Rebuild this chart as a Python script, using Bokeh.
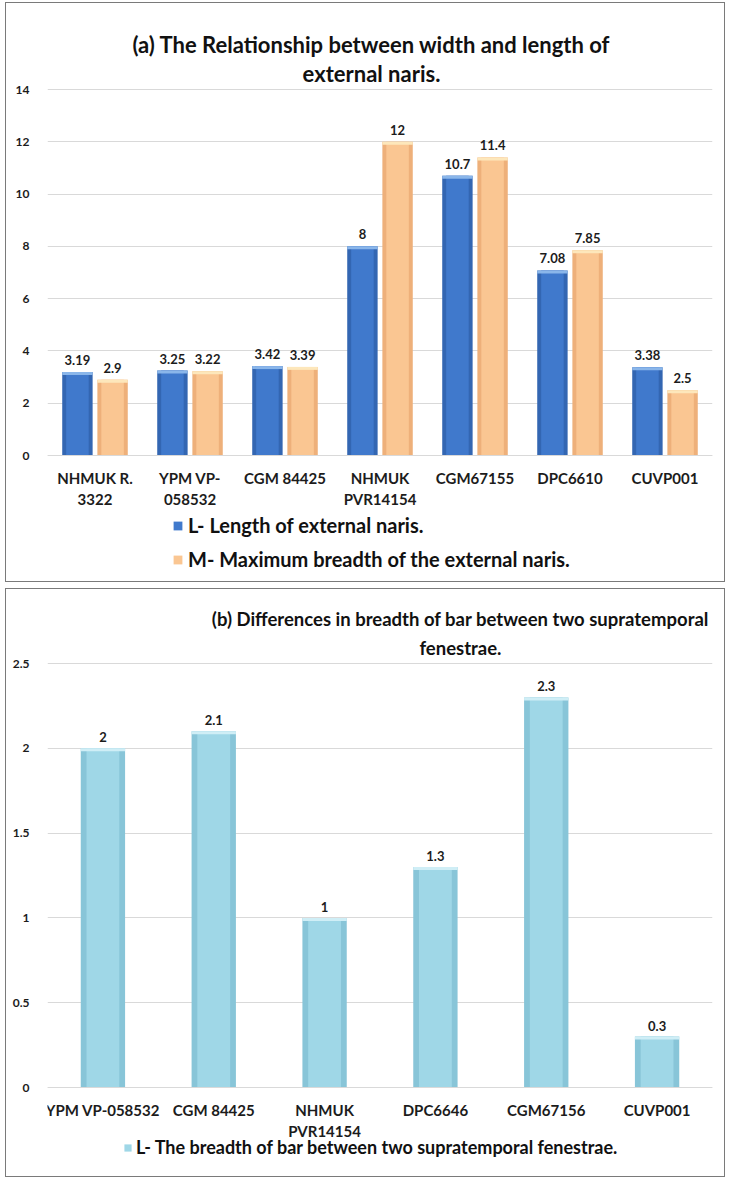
from bokeh.plotting import figure
from bokeh.models import (FactorRange, Range1d, ColumnDataSource, Label, Legend,
                          LegendItem, FixedTicker, NumeralTickFormatter)
from bokeh.transform import dodge
from bokeh.layouts import column
from bokeh.embed import file_html
from bokeh.resources import INLINE
from bokeh.core.properties import value

# ---- (a) external naris ----
specimens_a = ["NHMUK R.\n3322", "YPM VP-\n058532", "CGM 84425", "NHMUK\nPVR14154",
               "CGM67155", "DPC6610", "CUVP001"]
length_naris = [3.19, 3.25, 3.42, 8, 10.7, 7.08, 3.38]
breadth_naris = [2.9, 3.22, 3.39, 12, 11.4, 7.85, 2.5]
ticks_a = [0, 2, 4, 6, 8, 10, 12, 14]
legend_a = ["L- Length of external naris.", "M- Maximum breadth of the external naris."]
title_a = ["(a) The Relationship between width and length of", "external naris."]

# ---- (b) bar between supratemporal fenestrae ----
specimens_b = ["YPM VP-058532", "CGM 84425", "NHMUK\nPVR14154", "DPC6646", "CGM67156", "CUVP001"]
bar_breadth = [2, 2.1, 1, 1.3, 2.3, 0.3]
ticks_b = [0, 0.5, 1, 1.5, 2, 2.5]
legend_b = "L- The breadth of bar between two supratemporal fenestrae."
title_b = ["(b) Differences in breadth of bar between two supratemporal", "fenestrae."]

FONT = "Lato"
INK = "#1c1c1c"
GRID = "#d9d9d9"
BLUE = ("#3366b2", "#4079cc", "#8ab6ea")
PEACH = ("#eeb07a", "#fac692", "#fde7bb")
SKY = ("#88c5d8", "#9fd7e7", "#cfeef6")


def fmt(v):
    return f"{v:g}"


def base_figure(cats, ymax, ticks, w, h, left, right, below_px, above_px, fmt_ticks=None):
    # the frame fills the whole panel; the value axis spans [0, ymax] and the
    # room above / below it holds the title, category labels and legend
    plot_h = h - below_px - above_px
    unit = plot_h / ymax
    p = figure(x_range=FactorRange(*cats),
               y_range=Range1d(-below_px / unit, ymax + above_px / unit),
               width=w, height=h, output_backend="svg", toolbar_location=None,
               min_border_left=left, min_border_right=right,
               min_border_top=0, min_border_bottom=0)
    p.outline_line_color = None
    p.xgrid.grid_line_color = None
    tick = FixedTicker(ticks=ticks)
    p.ygrid.ticker = tick
    p.ygrid.grid_line_color = GRID
    p.ygrid.grid_line_width = 1
    p.yaxis.ticker = tick
    if fmt_ticks is not None:
        p.yaxis.formatter = fmt_ticks
    p.yaxis.axis_line_color = None
    p.yaxis.major_tick_line_color = None
    p.yaxis.minor_tick_line_color = None
    p.yaxis.major_label_text_font = FONT
    p.yaxis.major_label_text_font_style = "bold"
    p.yaxis.major_label_text_font_size = "12px"
    p.yaxis.major_label_text_color = INK
    p.yaxis.major_label_standoff = 12
    p.xaxis.fixed_location = 0
    p.xaxis.axis_line_color = GRID
    p.xaxis.major_tick_line_color = None
    p.xaxis.minor_tick_line_color = None
    p.xaxis.major_label_text_font = FONT
    p.xaxis.major_label_text_font_style = "bold"
    p.xaxis.major_label_text_font_size = "15px"
    p.xaxis.major_label_text_color = INK
    p.xaxis.major_label_standoff = 7
    p.x_range.range_padding = 0
    p.styles = {"outline": "1.5px solid #7a7a7a"}
    return p, unit


def bevel_bars(p, src, xcol, ycol, width, shades):
    edge, main, light = shades
    p.vbar(x=xcol, top=ycol, width=width, bottom=0, source=src,
           fill_color=edge, line_color=None)
    r = p.vbar(x=xcol, top=ycol, width=width * 0.74, bottom=0, source=src,
               fill_color=main, line_color=None)
    p.vbar(x=xcol, top=ycol, bottom="cap_" + ycol, width=width, source=src,
           fill_color=light, line_color=None)
    return r


def title_lines(p, lines, cx, ys, size):
    for txt, yy in zip(lines, ys):
        p.add_layout(Label(x=cx, y=yy, x_units="screen", y_units="screen", text=txt,
                           text_align="center", text_baseline="middle",
                           text_font=FONT, text_font_style="bold",
                           text_font_size=size, text_color="#111111"))


def style_legend(lg, glyph, size, label_h, spacing):
    lg.border_line_color = None
    lg.background_fill_alpha = 0
    lg.padding = 0
    lg.margin = 0
    lg.spacing = spacing
    lg.glyph_width = glyph
    lg.glyph_height = glyph
    lg.label_standoff = 5
    lg.label_height = label_h
    lg.label_text_font = FONT
    lg.label_text_font_style = "bold"
    lg.label_text_font_size = size
    lg.label_text_color = "#111111"


# ---------------- panel (a) ----------------
pa, unit_a = base_figure(specimens_a, 14, ticks_a, 718, 578, 34, 12, 126, 86)
cap_a = 3 / unit_a
src_a = ColumnDataSource(dict(
    cats=specimens_a, L=length_naris, M=breadth_naris,
    cap_L=[v - cap_a for v in length_naris], cap_M=[v - cap_a for v in breadth_naris],
    tL=[fmt(v) for v in length_naris], tM=[fmt(v) for v in breadth_naris]))
off = 0.185
rL = bevel_bars(pa, src_a, dodge("cats", -off, range=pa.x_range), "L", 0.32, BLUE)
rM = bevel_bars(pa, src_a, dodge("cats", off, range=pa.x_range), "M", 0.32, PEACH)
for col, sgn in (("L", -1), ("M", 1)):
    pa.text(x=dodge("cats", sgn * off, range=pa.x_range), y=col, text="t" + col,
            source=src_a, text_align="center", text_baseline="middle", y_offset=-12,
            text_font=value(FONT), text_font_style="bold", text_font_size="13px",
            text_color=INK)
title_lines(pa, title_a, 324, (537, 508), "22px")
leg_a = Legend(items=[LegendItem(label=legend_a[0], renderers=[rL]),
                      LegendItem(label=legend_a[1], renderers=[rM])],
               location=(125, 10), orientation="vertical")
style_legend(leg_a, 11, "20px", 22, 10)
pa.add_layout(leg_a)

# ---------------- panel (b) ----------------
pb, unit_b = base_figure(specimens_b, 2.5, ticks_b, 718, 587, 41, 8, 89, 74,
                         fmt_ticks=NumeralTickFormatter(format="0.[0]"))
cap_b = 3 / unit_b
src_b = ColumnDataSource(dict(
    cats=specimens_b, B=bar_breadth, cap_B=[v - cap_b for v in bar_breadth],
    tB=[fmt(v) for v in bar_breadth]))
rB = bevel_bars(pb, src_b, "cats", "B", 0.40, SKY)
pb.text(x="cats", y="B", text="tB", source=src_b, text_align="center",
        text_baseline="middle", y_offset=-11, text_font=value(FONT),
        text_font_style="bold", text_font_size="13px", text_color=INK)
title_lines(pb, title_b, 413, (558, 529), "18.5px")
leg_b = Legend(items=[LegendItem(label=legend_b, renderers=[rB])],
               location=(76, 18), orientation="vertical")
style_legend(leg_b, 9, "18px", 20, 0)
leg_b.label_standoff = 4
pb.add_layout(leg_b)

pa.margin = (3, 0, 0, 6)
pb.margin = (8, 0, 0, 6)

layout = column(pa, pb, spacing=0)
open("out.html", "w").write(file_html(layout, INLINE))
